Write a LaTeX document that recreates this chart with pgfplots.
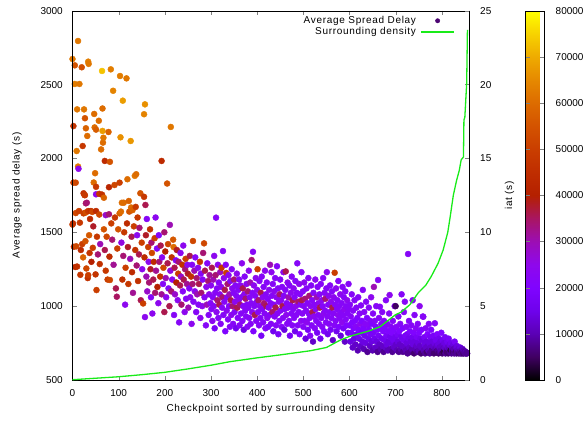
\documentclass[border=0pt]{standalone}
\usepackage{pgfplots}
\pgfplotsset{compat=1.18}
\usepackage{pgfplotstable}
\usepackage{fontspec}
\setmainfont{Liberation Sans}
\newfontfamily\labelfont{Liberation Sans}[LetterSpace=7]

\definecolor{densitygreen}{rgb}{0.1,0.92,0.1}
\definecolor{legenddot}{rgb}{0.30,0.02,0.45}

% checkpoint index, average spread delay (s), iat (thousands of s)
\pgfplotstableread{
x y c
0 2673 62
0 1552 50
1 1560 46
2 2219 47
2 1836 50
3 1402 45
5 2630 55
5 2504 63
6 1265 44
7 1836 52
7 1630 52
8 1405 52
9 2050 62
10 2332 62
10 1268 46
12 2795 62
12 1945 62
13 1930 25
14 1644 50
15 2504 62
16 1565 48
17 1212 48
18 1380 44
20 2617 54
21 1420 50
22 2084 48
23 1330 58
24 1764 46
24 1628 50
25 2332 62
26 1752 48
27 2272 55
27 1751 48
28 1440 55
29 2204 58
29 1696 35
29 1634 54
30 1255 52
31 1700 34
32 2152 60
33 1190 46
34 2655 63
34 1644 48
34 1210 50
35 2640 62
36 1480 56
37 1360 47
38 1590 44
40 1644 46
41 1300 40
43 1638 52
44 1395 50
45 1540 38
46 1837 60
47 2301 60
48 2210 60
49 1900 60
50 1215 47
51 2195 57
51 1808 48
51 1757 24
51 1644 44
52 1109 50
53 1470 48
55 1350 34
57 2255 60
58 1760 48
58 1620 52
59 1285 46
60 1420 30
62 2061 60
64 2592 73
64 1755 46
65 2338 60
65 2186 68
66 2107 60
67 2140 62
68 1734 58
68 1520 55
70 1983 44
70 1380 36
72 1616 28
72 1240 48
74 1470 52
76 1180 50
78 2179 58
79 1805 42
79 1622 34
80 1335 44
81 1977 55
81 1177 52
83 2603 63
84 1560 50
86 1450 34
88 2458 64
89 1280 32
91 1820 52
92 1600 48
94 1120 36
96 1064 35
97 1390 50
99 1520 55
102 1836 50
102 1628 58
103 2558 63
104 2143 66
105 1640 60
106 1430 26
107 1700 60
108 1180 46
109 2391 68
110 1340 34
111 1700 60
112 1500 48
114 1010 24
115 1260 50
117 2542 62
118 1560 44
119 1859 60
120 1400 38
121 1150 48
122 1712 58
123 1640 55
125 1320 30
126 2118 67
127 1668 60
128 1470 36
129 1230 44
130 1650 58
131 1090 32
133 1540 50
135 1882 62
136 1380 46
137 1672 48
138 1893 60
139 1275 34
140 1480 24
141 1600 48
142 1170 46
144 1350 36
145 1530 34
147 1764 55
148 1040 36
150 1430 50
151 1250 24
153 1018 50
155 2299 64
155 1740 48
156 1330 44
157 2366 66
157 926 24
158 1685 36
159 1480 38
160 1200 30
161 1590 22
162 1100 28
164 1400 50
165 1300 24
166 1160 34
168 1520 46
169 1250 38
170 1060 22
171 1430 34
172 1360 52
173 950 24
175 1180 36
176 1300 44
178 1460 50
179 1090 34
180 1600 24
181 1240 32
183 1390 22
184 1130 40
186 1020 24
187 1480 22
188 1300 34
190 1200 46
191 1410 36
193 1983 44
193 1080 32
194 1330 24
196 1150 22
197 1260 52
199 960 36
199 1500 34
201 1370 40
202 1190 30
203 1060 24
205 1830 55
206 1290 36
207 1420 52
208 1120 22
210 1000 36
211 1550 30
212 1240 26
213 2213 62
214 1100 34
215 1330 46
216 1180 24
218 1450 56
219 1400 60
220 940 22
221 1260 36
222 1080 28
224 1310 22
225 1160 40
226 1380 38
228 1040 24
229 1220 50
230 1300 34
231 890 22
233 1140 36
234 1360 24
235 1200 28
236 1010 34
238 1280 46
239 1100 22
240 1410 24
241 1180 36
243 960 24
244 1250 34
245 1320 50
246 1050 22
248 1150 32
249 1280 24
250 1220 38
251 990 30
253 1120 22
254 1340 36
255 1060 24
257 1200 46
258 880 24
259 1280 22
260 1150 34
261 1441 52
262 1030 22
264 1240 30
265 1100 24
266 1330 22
268 960 22
269 1190 34
270 1080 30
272 1260 24
273 1010 22
274 1150 36
276 1300 48
277 920 24
278 1220 22
279 1090 34
281 1000 24
282 1180 22
283 1360 34
285 1425 52
286 1060 22
287 1240 36
289 870 22
290 1130 24
291 1010 30
292 1290 22
294 1170 34
295 940 22
296 1080 24
297 1210 32
299 1020 22
300 1140 24
301 980 22
302 1260 36
303 900 24
304 1060 22
305 1180 30
306 1000 22
307 1340 24
308 850 18
309 1090 22
310 1210 34
311 1599 22
312 960 24
313 1120 22
314 1040 34
315 1280 24
316 920 22
317 1160 22
318 1010 36
319 1080 24
320 1230 30
321 880 22
322 1130 24
323 1260 48
324 990 22
325 1060 34
326 1373 22
327 940 22
328 1190 24
329 1030 22
330 1110 36
331 830 20
332 1280 22
333 1225 50
334 970 24
335 1060 22
336 1150 34
337 910 22
338 1210 24
339 1000 22
340 1080 30
341 860 22
342 1170 22
343 1040 36
344 940 24
345 1250 22
346 1120 24
347 1000 34
348 880 22
349 1090 22
350 1180 34
351 960 22
352 1030 24
353 1140 22
354 850 16
355 1070 22
356 1220 24
357 990 36
358 920 22
359 1110 22
360 1040 24
361 1180 22
362 870 22
363 1010 34
364 1140 24
365 950 22
366 1060 22
367 1290 24
368 900 22
369 1120 36
370 1000 22
371 840 14
372 1080 24
373 1200 22
374 970 22
375 1050 34
376 930 22
377 1150 24
378 1010 22
379 860 22
380 1100 34
381 990 22
382 1240 24
383 920 22
384 1060 22
385 1160 30
386 880 22
387 1020 22
388 1312 34
389 960 24
390 1090 22
391 1368 22
392 830 20
393 1140 24
394 1000 22
395 940 36
396 1070 22
397 1190 24
398 900 22
399 1030 22
400 1110 24
401 1250 50
402 960 22
403 1040 34
404 870 22
405 1170 22
406 1000 24
407 920 22
408 1090 36
409 800 18
410 1200 22
411 980 22
412 1060 24
413 890 22
414 1130 22
415 1020 34
416 950 22
417 1240 24
418 850 22
419 1080 22
420 1000 36
421 1160 22
422 920 24
423 1050 22
424 860 20
425 990 22
426 1110 24
427 940 22
428 1280 30
429 1020 22
430 880 22
431 1230 24
432 1070 22
433 960 34
434 1150 22
435 830 16
436 1010 22
437 1100 24
438 930 22
439 1190 22
440 990 36
441 870 22
442 1060 24
443 1270 22
444 950 22
445 1120 22
446 810 18
447 1030 24
448 900 22
449 1080 34
450 1180 22
451 970 22
452 1040 24
453 860 22
454 1130 22
455 1000 36
456 920 22
457 1230 24
458 1070 22
459 840 14
460 980 22
461 1110 22
462 1235 36
463 940 24
464 1020 22
465 880 22
466 1160 24
467 990 22
468 1060 30
469 900 22
470 1140 22
471 800 18
472 1010 22
473 1090 24
474 950 22
475 1200 22
476 870 22
477 1040 36
478 980 22
479 1120 24
480 920 22
481 1060 22
482 830 16
483 1170 22
484 1000 24
485 940 22
486 1090 22
487 1290 22
488 870 22
489 1030 34
490 960 22
491 1150 24
492 810 20
493 1080 22
494 1010 22
495 900 24
496 1230 22
497 1040 36
498 950 22
499 1100 22
500 860 22
501 1000 22
502 1160 24
503 900 22
504 1050 34
505 780 14
506 970 22
507 1120 22
508 890 24
509 1020 22
510 840 18
511 1190 22
512 950 22
513 1070 34
514 920 22
515 800 22
516 1000 24
517 1140 22
518 870 22
519 1040 22
520 960 36
521 760 12
522 1090 22
523 930 24
524 1010 22
525 850 22
526 1180 24
527 980 22
528 900 22
529 1060 30
530 820 18
531 1130 22
532 940 22
533 1020 24
534 880 22
535 1080 22
536 990 36
537 780 16
538 1150 22
539 920 22
540 1040 24
541 860 22
542 1000 22
543 1190 22
544 950 24
545 830 20
546 1090 22
547 970 22
548 1050 34
549 890 22
550 1120 22
551 1230 24
552 930 22
553 810 16
554 1010 22
555 1070 24
556 880 22
557 960 22
558 1140 22
559 840 18
560 1030 24
561 920 22
562 1100 22
563 990 36
564 770 12
565 950 22
566 1060 24
567 870 22
568 1226 50
569 1010 22
570 900 22
571 1120 24
572 830 16
573 980 22
574 1040 22
575 940 24
576 1170 22
577 860 20
578 1000 22
579 920 22
580 1080 24
581 800 14
582 960 22
583 1020 22
584 890 24
585 1130 22
586 940 22
587 850 18
588 1060 22
589 980 24
590 760 12
591 1100 22
592 910 22
593 1000 22
594 870 20
595 1040 24
596 950 22
597 820 16
598 1150 22
599 980 22
600 870 20
601 1010 22
602 760 14
603 930 22
604 820 18
605 1080 22
606 890 20
607 720 12
608 970 22
609 850 20
610 780 14
611 1040 22
612 900 20
613 740 12
614 860 22
615 990 22
616 810 16
617 920 20
618 700 10
619 1060 22
620 840 20
621 780 16
622 950 22
623 880 24
624 730 12
625 1005 22
626 820 18
627 900 20
628 760 14
629 1110 22
630 850 20
631 710 10
632 960 22
633 800 16
634 880 22
635 750 14
636 1030 22
637 830 20
638 920 20
639 690 8
640 870 22
641 780 16
642 990 22
643 840 20
644 730 12
645 900 22
646 810 18
647 1060 24
648 760 14
649 880 20
650 700 10
651 950 22
652 820 18
653 1130 30
654 780 16
655 900 22
656 720 12
657 860 20
658 1000 22
659 760 14
660 840 20
661 690 8
662 1177 22
663 800 18
664 920 22
665 740 12
666 996 22
667 850 20
668 710 10
669 880 22
670 780 16
671 960 22
672 730 12
673 830 20
674 690 8
675 900 22
676 770 16
677 860 20
678 720 12
679 1040 22
680 800 18
681 740 14
682 880 22
683 700 10
684 830 20
685 760 14
686 950 22
687 1075 24
688 790 16
689 710 10
690 860 22
691 750 14
692 820 20
693 690 8
694 900 22
695 770 16
696 840 20
697 720 12
698 1000 22
699 790 16
700 1000 5
701 740 12
702 860 22
703 700 10
704 810 18
705 760 14
706 930 22
707 690 8
708 830 20
709 740 12
710 880 22
711 710 10
712 790 16
713 1080 22
714 730 12
715 850 20
716 690 8
717 770 16
718 960 22
719 720 12
720 1030 22
721 800 18
722 700 10
723 860 22
724 750 14
725 810 18
726 680 8
727 1353 22
728 780 16
729 900 22
730 720 12
731 830 20
732 690 8
733 760 14
734 870 22
735 710 10
736 790 16
737 1040 22
738 740 14
739 820 20
740 680 6
741 940 22
742 760 14
743 710 10
744 850 22
745 730 12
746 790 18
747 690 8
748 880 22
749 750 14
750 700 10
751 820 20
752 1000 24
753 730 12
754 780 16
755 680 6
756 840 20
757 720 12
758 770 14
759 930 22
760 928 22
761 700 10
762 790 18
763 740 14
764 680 8
765 850 22
766 720 12
767 760 14
768 690 6
769 810 20
770 730 12
771 700 10
772 880 22
773 750 14
774 680 8
775 790 18
776 720 12
777 840 20
778 700 8
779 760 14
780 690 8
781 730 12
782 800 18
783 680 6
784 750 14
785 884 22
786 710 10
787 770 16
788 690 6
789 730 12
790 810 20
791 700 8
792 740 14
793 680 6
794 780 16
795 720 12
796 690 8
797 760 14
798 700 10
799 820 20
800 730 12
801 680 6
802 770 16
803 710 10
804 690 4
805 750 14
806 720 12
807 790 18
808 680 8
809 740 14
810 700 10
811 690 6
812 760 16
813 720 12
814 680 6
815 780 18
816 710 10
817 740 14
818 690 8
819 700 4
820 750 16
821 680 8
822 720 12
823 700 10
824 690 6
825 740 14
826 710 10
827 680 8
828 760 18
829 700 10
830 690 6
831 720 12
832 680 8
833 730 14
834 700 10
835 690 8
836 710 12
837 680 6
838 700 10
839 690 8
840 720 14
841 680 8
842 700 10
843 690 6
844 680 8
845 710 12
846 690 8
847 680 6
848 700 10
849 685 8
850 690 8
851 680 8
852 690 10
853 680 8
854 685 8
855 680 8
}\delaytable

\pgfplotsset{
  colormap={gp}{
    rgb=(0,0,0) rgb=(0.25,0,0.383) rgb=(0.354,0.002,0.707) rgb=(0.433,0.007,0.924)
    rgb=(0.5,0.016,1) rgb=(0.559,0.031,0.924) rgb=(0.612,0.053,0.707) rgb=(0.661,0.084,0.383)
    rgb=(0.707,0.125,0) rgb=(0.75,0.178,0) rgb=(0.791,0.244,0) rgb=(0.829,0.325,0)
    rgb=(0.866,0.422,0) rgb=(0.901,0.536,0) rgb=(0.935,0.670,0) rgb=(0.968,0.824,0)
    rgb=(1,1,0)},
  every tick label/.append style={font=\fontsize{10}{12}\selectfont, inner sep=0pt,
    /pgf/number format/assume math mode=true},
  every axis label/.append style={font=\labelfont\fontsize{10}{12}\selectfont},
}

\begin{document}
\begin{tikzpicture}
\useasboundingbox (-72.5pt,-41pt) rectangle (515.5pt,380pt);

% left axis: delay scatter coloured by iat
\begin{axis}[
  name=main, at={(0,0)}, anchor=south west,
  scale only axis, width=396.5pt, height=369.3pt,
  xmin=0, xmax=859, ymin=500, ymax=3000,
  xtick={0,100,...,800}, ytick={500,1000,...,3000},
  xtick pos=both, ytick pos=left,
  tick align=inside, major tick length=4.5pt,
  scaled ticks=false,
  yticklabel style={/pgf/number format/1000 sep={}, anchor=east, xshift=-9.5pt},
  xticklabel style={anchor=north, yshift=-9pt},
  xlabel={Checkpoint sorted by surrounding density},
  ylabel={Average spread delay (s)},
  xlabel style={at={(axis description cs:0.5,-0.0785)}, anchor=center},
  ylabel style={at={(axis description cs:-0.14,0.5)}, anchor=center, rotate=0},
  clip=false,
  colormap name=gp,
  point meta min=0, point meta max=80000,
  colorbar,
  colorbar style={
    at={(main.north east)}, anchor=north west, xshift=48pt,
    width=19pt,
    ytick={0,10000,...,80000},
    ytick pos=both, yticklabel pos=right,
    tick align=inside, major tick length=4.5pt,
    scaled y ticks=false,
    yticklabel style={/pgf/number format/fixed, /pgf/number format/1000 sep={},
      anchor=west, xshift=11pt},
    ylabel={iat (s)},
    every axis y label/.style={at={(rel axis cs:-0.84,0.5)}, anchor=center, rotate=90,
      font=\labelfont\fontsize{10}{12}\selectfont},
  },
]
\addplot[scatter, only marks, mark=*, mark size=3.0pt, point meta=explicit,
  scatter/use mapped color={draw=mapped color, fill=mapped color}]
  table[x=x, y=y, meta expr=\thisrow{c}*1000] {\delaytable};
\end{axis}

% right axis: surrounding density
\begin{axis}[
  at={(0,0)}, anchor=south west,
  scale only axis, width=396.5pt, height=369.3pt,
  xmin=0, xmax=859, ymin=0, ymax=25,
  hide x axis,
  ytick={0,5,...,25}, ytick pos=right,
  tick align=inside, major tick length=4.5pt,
  yticklabel style={anchor=west, xshift=11pt},
  clip=false,
  legend style={draw=none, fill=none, at={(1,1)}, anchor=north east,
    xshift=-14pt, yshift=-4pt, inner sep=0pt, row sep=-0.4pt, column sep=3pt,
    nodes={inner sep=1.5pt, font=\labelfont\fontsize{10}{12}\selectfont}},
  legend cell align=right,
  legend plot pos=right,
]
\addlegendimage{legend image code/.code={\path (0pt,0pt) (33pt,0pt); \fill[legenddot] (16.5pt,0pt) circle (2.2pt);}}
\addlegendentry{Average Spread Delay}
\addplot[densitygreen, line width=1.3pt,
  legend image code/.code={\draw[densitygreen, line width=1.3pt] (0pt,0pt) -- (33pt,0pt);}]
  coordinates {
  (0,0.02) (50,0.12) (100,0.22) (150,0.36) (200,0.52) (250,0.75) (300,1.0)
  (341,1.24) (400,1.5) (450,1.7) (515,1.98) (550,2.2) (580,2.7) (600,2.95)
  (640,3.3) (666,3.6) (699,4.4) (712,4.6) (731,5.1) (749,5.9) (765,6.4)
  (777,7.0) (792,7.9) (803,8.8) (813,10.0) (818,11.0) (825,12.5) (832,13.5)
  (838,14.2) (842,14.9) (847,15.1) (848,17.6) (850,17.8) (854,20.1)
  (855.5,23.5) (856,23.7)};
\addlegendentry{Surrounding density}
\end{axis}
\end{tikzpicture}
\end{document}
